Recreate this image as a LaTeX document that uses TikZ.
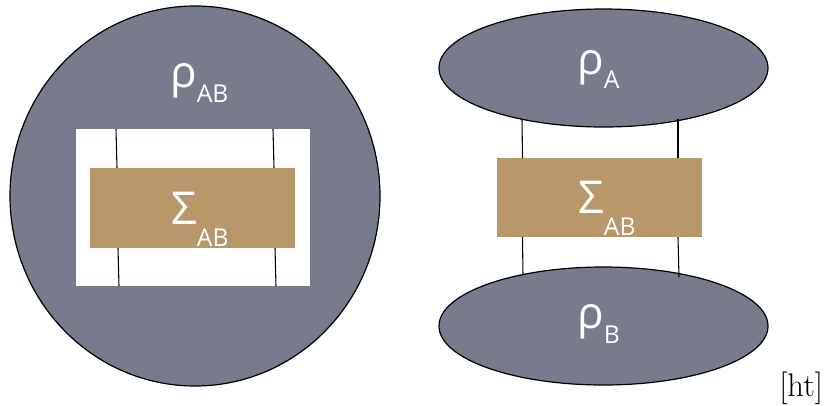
\documentclass[tikz,border=0pt]{standalone}
\usepackage{fontspec}
\newfontfamily\labfont{Open Sans}
\usetikzlibrary{shapes.geometric}
\definecolor{stategray}{RGB}{120,123,140}
\definecolor{maptan}{RGB}{184,151,106}
\newcommand{\biglab}[4]{{\labfont\fontsize{#1}{#1}\selectfont #2}\raisebox{-#4}{\labfont\fontsize{18.5}{18.5}\selectfont #3}}
\begin{document}
\begin{tikzpicture}[x=0.75pt,y=-0.75pt,
  state/.style={ellipse,draw=black,line width=0.9pt,fill=stategray,inner sep=0pt},
  mapbox/.style={rectangle,fill=maptan,inner sep=0pt},
  hole/.style={rectangle,fill=white,inner sep=0pt},
  leg/.style={draw=black,line width=0.8pt},
  lab/.style={text=white,inner sep=0pt,anchor=base west}]
\useasboundingbox (0,0) rectangle (826,405);
% left: joint state
\node[state,minimum width=277.5pt,minimum height=285pt] (rhoAB) at (195,196) {};
\node[hole,minimum width=175.5pt,minimum height=117.75pt] (hole) at (193,207.5) {};
\coordinate (l1a) at (116,129); \coordinate (l1b) at (117,168);
\coordinate (l2a) at (118,248); \coordinate (l2b) at (119,286);
\coordinate (r1a) at (273,129); \coordinate (r1b) at (274,168);
\coordinate (r2a) at (275,248); \coordinate (r2b) at (276,286);
\draw[leg] (l1a) -- (l1b); \draw[leg] (l2a) -- (l2b);
\draw[leg] (r1a) -- (r1b); \draw[leg] (r2a) -- (r2b);
\node[mapbox,minimum width=153.75pt,minimum height=60pt] (sigL) at (192.5,208) {};
\node[lab] (tRhoAB) at (170,87) {\biglab{33}{ρ}{AB}{11.25pt}};
\node[lab] (tSigL) at (171,224) {\biglab{34}{Σ}{AB}{16.5pt}};
% right: product state
\node[state,minimum width=246.75pt,minimum height=88.5pt] (rhoA) at (603.5,68) {};
\node[state,minimum width=246.75pt,minimum height=88.5pt] (rhoB) at (603.5,326) {};
\coordinate (a1) at (522,119); \coordinate (a2) at (522.5,158);
\coordinate (a3) at (522.5,237); \coordinate (a4) at (523,275);
\coordinate (b1) at (678,119); \coordinate (b2) at (678,158);
\coordinate (b3) at (678,237); \coordinate (b4) at (679,277);
\draw[leg] (a1) -- (a2); \draw[leg] (a3) -- (a4);
\draw[leg] (b1) -- (b2); \draw[leg] (b3) -- (b4);
\node[mapbox,minimum width=153.75pt,minimum height=59.25pt] (sigR) at (599.5,197.5) {};
\node[lab] (tRhoA) at (577,74) {\biglab{33}{ρ}{A}{10.5pt}};
\node[lab] (tRhoB) at (577,328) {\biglab{33}{ρ}{B}{11.25pt}};
\node[lab] (tSigR) at (578,213) {\biglab{34}{Σ}{AB}{16.5pt}};
\node[inner sep=0pt,anchor=base west] (ht) at (779,396) {\fontsize{24.5}{24.5}\selectfont [ht]};
\end{tikzpicture}
\end{document}
